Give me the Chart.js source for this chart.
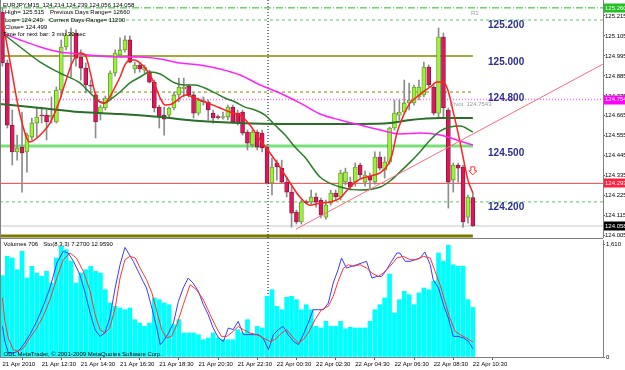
<!DOCTYPE html>
<html>
<head>
<meta charset="utf-8">
<script src="https://cdn.jsdelivr.net/npm/chart.js@4.4.0/dist/chart.umd.min.js"></script>
<style>
  html, body { margin: 0; padding: 0; background: #fff; }
  #wrap { position: relative; width: 625px; height: 370px; overflow: hidden; }
  #main { position: absolute; left: 0; top: 0; }
  #sub { position: absolute; left: 0; top: 238px; }
</style>
</head>
<body>
<div id="wrap">
  <canvas id="main" width="625" height="238"></canvas>
  <canvas id="sub" width="625" height="132"></canvas>
</div>
<script>
// EURJPY M15 bars, 21 Apr 10:30 .. 22 Apr 10:30
const openP = [125.237,124.956,124.614,124.466,124.493,124.466,124.548,124.625,124.669,124.669,
  124.658,124.631,124.807,125.044,125.105,125.121,124.989,124.928,124.835,124.780,
  124.680,124.708,124.763,124.901,125.000,125.028,125.083,124.923,124.945,124.917,
  124.906,124.851,124.713,124.669,124.669,124.708,124.780,124.813,124.829,124.780,
  124.680,124.747,124.741,124.680,124.658,124.656,124.658,124.713,124.680,124.686,
  124.576,124.504,124.576,124.570,124.493,124.295,124.405,124.377,124.300,124.245,
  124.135,124.080,124.190,124.190,124.218,124.201,124.107,124.184,124.240,124.218,
  124.300,124.300,124.300,124.394,124.300,124.333,124.300,124.438,124.366,124.410,
  124.598,124.669,124.686,124.736,124.736,124.769,124.780,124.934,124.824,124.680,
  125.099,124.697,124.311,124.394,124.383,124.107,124.214];
const highP = [125.259,124.972,124.697,124.559,124.686,124.570,124.653,124.713,124.713,124.697,
  124.769,124.824,125.083,125.138,125.149,125.138,125.028,124.956,124.862,124.796,
  124.724,124.774,124.912,125.028,125.094,125.105,125.105,124.961,124.956,124.945,
  124.917,124.862,124.724,124.713,124.713,124.796,124.873,124.873,124.835,124.791,
  124.763,124.769,124.752,124.697,124.669,124.686,124.724,124.724,124.697,124.697,
  124.587,124.587,124.587,124.587,124.504,124.432,124.421,124.421,124.328,124.273,
  124.146,124.201,124.201,124.256,124.240,124.212,124.201,124.256,124.256,124.366,
  124.377,124.328,124.405,124.405,124.361,124.350,124.466,124.466,124.438,124.603,
  124.752,124.752,124.862,124.846,124.835,124.862,124.961,124.945,124.835,125.149,
  125.121,124.708,124.405,124.405,124.394,124.229,124.239];
const lowP = [124.939,124.598,124.394,124.421,124.245,124.355,124.532,124.548,124.625,124.532,
  124.625,124.625,124.769,125.028,124.879,124.939,124.862,124.791,124.791,124.543,
  124.642,124.697,124.752,124.884,124.989,125.016,124.956,124.901,124.906,124.901,
  124.846,124.686,124.598,124.559,124.658,124.697,124.741,124.769,124.769,124.653,
  124.669,124.724,124.642,124.625,124.647,124.647,124.642,124.625,124.614,124.559,
  124.477,124.493,124.477,124.466,124.289,124.229,124.311,124.295,124.218,124.052,
  124.069,124.069,124.179,124.179,124.162,124.102,124.096,124.173,124.201,124.201,
  124.284,124.256,124.278,124.322,124.278,124.267,124.289,124.366,124.322,124.399,
  124.587,124.642,124.680,124.697,124.724,124.752,124.769,124.824,124.669,124.658,
  124.653,124.157,124.245,124.300,124.052,124.074,124.056];
const closeP = [124.956,124.614,124.466,124.488,124.460,124.559,124.625,124.658,124.664,124.631,
  124.669,124.807,125.044,125.110,125.116,124.983,124.928,124.835,124.829,124.631,
  124.713,124.763,124.901,125.011,125.028,125.083,124.961,124.945,124.923,124.934,
  124.851,124.708,124.658,124.647,124.708,124.780,124.824,124.824,124.780,124.680,
  124.752,124.741,124.697,124.653,124.655,124.658,124.713,124.631,124.625,124.570,
  124.515,124.576,124.493,124.488,124.295,124.383,124.383,124.300,124.245,124.129,
  124.080,124.190,124.187,124.218,124.190,124.118,124.173,124.240,124.218,124.350,
  124.355,124.273,124.383,124.339,124.339,124.311,124.438,124.377,124.410,124.598,
  124.680,124.686,124.736,124.752,124.824,124.824,124.934,124.835,124.680,125.099,
  124.708,124.300,124.394,124.377,124.080,124.218,124.058];
const volumes = [1159,1435,1411,1244,1506,1126,1292,1197,1150,1221,
  1054,1411,1577,1529,1364,1054,1197,1244,1292,1221,
  1197,959,769,722,698,674,698,532,484,437,
  484,841,817,769,745,460,532,342,342,342,
  318,247,271,342,271,247,247,247,389,342,
  532,318,437,413,865,959,722,674,851,865,
  817,674,745,674,437,413,508,437,437,508,
  403,423,413,413,413,508,674,745,841,1183,
  627,817,936,888,745,912,983,959,1079,1482,
  1364,1592,1315,1292,1292,817,706];

// moving averages (bar index, price)
const maFastAt = [0,1.5,3.6,5.6,7.7,9.7,11.7,12.8,14.2,15.8,16.9,17.9,18.9,19.9,20.9,21.9,23,24,25,26,
  27,28.1,29.1,30.1,31.1,32.2,33.2,34.6,36.2,37.3,38.3,40.3,42.4,44.4,46.4,48.5,50.5,52.6,54.6,56.6,
  58.7,60.7,62.8,64.8,66.8,68.9,70.9,73,75,77,78.5,79.5,80.5,81.7,83.2,84.6,85.8,87.3,88.7,89.9,
  90.9,91.9,93,94,95,96];
const maFastVal = [125.193,124.972,124.669,124.521,124.559,124.625,124.752,124.846,124.956,125.011,
  125.000,124.906,124.791,124.741,124.736,124.769,124.824,124.879,124.945,124.972,
  124.972,124.956,124.928,124.890,124.835,124.763,124.724,124.730,124.763,124.780,
  124.774,124.752,124.730,124.708,124.686,124.669,124.614,124.532,124.460,124.383,
  124.295,124.218,124.173,124.184,124.190,124.212,124.273,124.317,124.333,124.350,
  124.388,124.449,124.570,124.658,124.736,124.769,124.796,124.824,124.851,124.851,
  124.807,124.697,124.570,124.438,124.311,124.240];
const maMidAt = [0,3.6,7.7,11.7,15.8,17.9,19.9,20.9,21.9,24,26,28.1,30.1,32.2,35.2,37.3,39.3,41.3,43.4,45.4,
  47.5,49.5,51.5,53.6,55.6,57.7,59.7,61.7,64.8,68.9,73,77.1,79.1,81.1,83.2,85.2,87.3,89.3,91.3,93.4,96];
const maMidVal = [125.121,125.044,124.961,124.901,124.846,124.791,124.741,124.736,124.752,124.796,
  124.846,124.879,124.906,124.895,124.846,124.835,124.835,124.818,124.791,124.763,
  124.741,124.713,124.697,124.669,124.614,124.559,124.493,124.438,124.328,124.273,
  124.256,124.273,124.306,124.355,124.410,124.466,124.532,124.581,124.603,124.609,124.576];
const maSlowAt = [0,3.6,7.7,11.7,15.8,19.9,24,28.1,32.2,36.2,40.3,44.4,48.5,52.6,56.6,60.7,64.8,68.9,73,77.1,81.1,85.2,89.3,93.4,96];
const maSlowVal = [125.121,125.083,125.044,125.016,125.005,124.994,124.989,124.989,124.978,124.956,
  124.945,124.923,124.890,124.835,124.791,124.736,124.675,124.642,124.614,124.587,
  124.565,124.570,124.559,124.526,124.504];
const maLongAt = [-0.5,7.7,15.8,24,32.2,40.3,48.5,56.6,64.8,73,79.1,83.2,89.3,96];
const maLongVal = [124.730,124.708,124.686,124.675,124.658,124.636,124.625,124.620,124.620,124.620,124.625,124.642,124.653,124.653];

// Stochastic(8,3,3)
const kAt = [0,0.5,1.2,2.2,3.2,4.3,5.6,7.0,8.3,9.7,11.1,12.4,13.4,14.5,15.8,16.8,17.9,18.9,19.9,20.9,
  21.9,23.0,24.0,25.0,25.7,26.7,27.7,28.7,29.4,30.5,31.5,32.2,32.8,33.9,34.9,35.9,36.9,37.9,38.9,40.0,
  41.0,42.0,43.0,44.1,45.1,46.1,47.1,48.1,49.2,50.2,51.2,52.2,53.2,54.3,55.3,56.3,57.3,58.3,59.4,60.4,
  61.4,62.4,63.4,64.5,65.5,66.5,67.5,68.5,69.2,70.2,71.3,72.3,73.3,74.3,75.4,76.4,77.4,78.4,79.4,80.5,
  81.1,82.2,83.2,84.2,85.2,86.2,87.3,87.9,89.0,90.0,91.0,92.0,93.0,94.1,95.1,96];
const kVal = [26.4,13.5,3.5,3.5,4.9,10.6,19.3,30.7,43.7,59.5,81.0,91.1,89.7,82.5,71.0,56.6,37.9,23.6,17.8,20.7,
  33.6,59.5,79.6,94.5,89.7,82.5,73.9,65.2,59.5,42.2,25.0,10.6,13.5,20.7,29.3,48.0,59.5,68.1,63.8,56.6,
  45.1,36.5,25.0,16.4,13.5,25.0,23.6,30.7,19.3,19.3,19.3,19.3,16.4,6.3,19.3,23.6,26.4,19.3,13.5,10.6,
  19.3,29.3,40.8,40.8,40.8,46.5,63.8,75.3,85.4,76.7,78.2,79.6,81.0,82.5,68.1,69.5,69.5,75.3,82.5,89.7,
  89.7,82.5,82.5,83.9,85.4,90.5,79.6,66.7,59.5,45.1,33.6,17.8,17.8,16.4,13.5,7.27];
const dAt = [0,0.5,1.2,2.2,3.2,4.3,5.6,7.0,8.3,9.7,11.1,12.4,13.8,15.1,16.5,17.9,18.9,19.9,20.9,21.9,
  23.0,24.0,25.0,26.0,27.1,28.1,29.4,30.5,31.5,32.5,33.5,34.5,35.6,36.9,38.3,39.6,41.0,42.4,43.7,44.7,
  45.8,47.1,48.1,49.2,50.5,51.9,53.2,54.6,55.6,57.0,58.0,59.4,60.4,61.4,62.4,63.8,65.1,66.5,67.5,68.5,
  69.6,70.6,71.6,73.0,74.3,75.4,76.7,77.7,79.1,80.5,81.8,83.2,84.5,85.9,87.3,88.3,89.3,90.3,91.3,92.4,
  93.4,94.7,96];
const dVal = [50.9,30.7,16.4,6.3,4.9,7.8,16.4,25.0,35.1,49.4,68.1,83.9,89.7,85.4,73.9,56.6,36.5,23.6,20.7,25.0,
  42.2,68.1,83.9,86.8,85.4,76.7,66.7,55.2,39.4,23.6,16.4,17.8,27.9,45.1,62.4,58.0,49.4,36.5,25.0,17.8,
  17.8,22.1,26.4,23.6,20.7,19.3,16.4,13.5,15.0,20.7,23.6,16.4,12.1,15.0,20.7,32.2,40.8,43.7,52.3,65.2,
  76.7,79.6,78.2,79.6,76.7,72.4,69.5,72.4,78.2,85.4,86.8,83.9,83.9,86.8,85.4,73.9,62.4,48.0,33.6,22.1,
  19.3,16.4,12.96];

// horizontal objects: R1, dashed, olive, olive dashed, pivot, prev close, red, dashed, bid, olive bottom
const levelVals = [125.2597,125.193,124.994,124.796,124.7543,124.499,124.293,124.191,124.058,124.003];
const trendAt = [59.9,122.56];
const trendVal = [124.041,124.950];
const sessionAt = 54.2;

const priceTicks = [125.215,125.105,124.995,124.885,124.775,124.665,124.555,124.445,124.335,124.225,124.115,124.005];
const timeTickAt = [0,8,16,24,32,40,48,56,64,72,80,88,96];
const timeLabels = ['21 Apr 2010','21 Apr 12:30','21 Apr 14:30','21 Apr 16:30','21 Apr 18:30','21 Apr 20:30',
  '21 Apr 22:30','22 Apr 00:30','22 Apr 02:30','22 Apr 04:30','22 Apr 06:30','22 Apr 08:30','22 Apr 10:30'];
const bigLevelVals = [125.2,125.0,124.8,124.5,124.2];
const bigLevelText = ['125.200','125.000','124.800','124.500','124.200'];
const volTicks = [0,1610];

const FONT = "'Liberation Sans', Arial, sans-serif";
const X_MIN = -0.5, X_MAX = 122.56;
const Y_MIN = 123.992, Y_MAX = 125.303;

const pts = (xs, ys) => xs.map((x, i) => ({ x: x, y: ys[i] }));
const bull = i => closeP[i] >= openP[i];

const levelStyles = [
  { color: '#22c022', dash: [7, 2, 1, 2], width: 1, to: X_MAX },
  { color: '#55cc55', dash: [3, 3], width: 1, to: X_MAX },
  { color: '#8a8a00', dash: [], width: 1.5, to: 96 },
  { color: '#8a8a00', dash: [3, 3], width: 1, to: 96 },
  { color: '#ff70ff', dash: [1, 2], width: 1.5, to: X_MAX },
  { color: '#78e078', dash: [], width: 3, to: 96 },
  { color: '#f04040', dash: [], width: 1, to: X_MAX },
  { color: '#55cc55', dash: [3, 3], width: 1, to: X_MAX },
  { color: '#c8c8c8', dash: [], width: 1, to: X_MAX },
  { color: '#7a7a00', dash: [], width: 3, to: 96 }
];

const levelSets = levelVals.map((v, i) => ({
  type: 'line',
  data: [{ x: X_MIN, y: v }, { x: levelStyles[i].to, y: v }],
  borderColor: levelStyles[i].color,
  borderDash: levelStyles[i].dash,
  borderWidth: levelStyles[i].width,
  pointRadius: 0,
  order: 20
}));

function maSet(xs, ys, color, width, order) {
  return {
    type: 'line', data: pts(xs, ys), borderColor: color, borderWidth: width,
    pointRadius: 0, cubicInterpolationMode: 'monotone', order: order
  };
}

const overlayMain = {
  id: 'overlayMain',
  afterDraw(chart) {
    const { ctx, scales: { x, y } } = chart;
    ctx.save();
    // left frame
    ctx.strokeStyle = '#808080';
    ctx.lineWidth = 1;
    ctx.beginPath(); ctx.moveTo(0.5, 0); ctx.lineTo(0.5, 238); ctx.stroke();

    // header text
    ctx.fillStyle = '#000';
    ctx.font = '6px ' + FONT;
    ctx.textBaseline = 'middle';
    ctx.textAlign = 'left';
    ctx.fillText('EURJPY,M15  124.214 124.239 124.056 124.058', 3, 5.5);
    ctx.fillText('High= 125.515', 5, 12.7);
    ctx.fillText('Previous Days Range= 12660', 50, 12.7);
    ctx.fillText('Low= 124.249', 5, 20);
    ctx.fillText('Current Days Range= 11200', 49, 20);
    ctx.fillText('Close= 124.499', 5, 27.3);
    ctx.fillText('Time for next bar: 3 min 30 sec', 3, 34.3);

    // object labels
    ctx.fillStyle = '#9a9a9a';
    ctx.fillText('R1', x.getPixelForValue(95.6), y.getPixelForValue(levelVals[0]) + 5);
    ctx.fillText('Pivot  124.7543', x.getPixelForValue(91.3), y.getPixelForValue(levelVals[4]) + 4.5);

    ctx.fillStyle = '#2b2e8c';
    ctx.font = 'bold 10px ' + FONT;
    bigLevelVals.forEach((v, i) => {
      ctx.fillText(bigLevelText[i], x.getPixelForValue(99.1), y.getPixelForValue(v) + 7);
    });

    // sell arrow
    const ax = x.getPixelForValue(96), ay = y.getPixelForValue(124.362);
    ctx.beginPath();
    ctx.moveTo(ax - 2, ay - 4); ctx.lineTo(ax + 2, ay - 4); ctx.lineTo(ax + 2, ay);
    ctx.lineTo(ax + 4, ay); ctx.lineTo(ax, ay + 4); ctx.lineTo(ax - 4, ay); ctx.lineTo(ax - 2, ay);
    ctx.closePath();
    ctx.fillStyle = '#fff'; ctx.fill();
    ctx.strokeStyle = '#ff3030'; ctx.lineWidth = 1; ctx.stroke();

    // price boxes on the axis
    const boxes = [
      { v: levelVals[0], bg: '#22c022', fg: '#fff', t: '125.260' },
      { v: levelVals[4], bg: '#ff00ff', fg: '#fff', t: '124.754' },
      { v: levelVals[6], bg: '#ff2040', fg: '#fff', t: '124.293' },
      { v: closeP[closeP.length - 1], bg: '#000', fg: '#fff', t: '124.058' }
    ];
    ctx.font = '6px ' + FONT;
    boxes.forEach(b => {
      const py = y.getPixelForValue(b.v);
      ctx.fillStyle = b.bg;
      ctx.fillRect(604, Math.round(py) - 4.5, 21, 9);
      ctx.fillStyle = b.fg;
      ctx.fillText(b.t, 605, py);
    });
    ctx.restore();
  }
};

new Chart(document.getElementById('main'), {
  type: 'bar',
  data: {
    datasets: [
      { type: 'line', data: pts(trendAt, trendVal), borderColor: '#ff6a80', borderWidth: 1, pointRadius: 0, order: 0 },
      maSet(maFastAt, maFastVal, '#ff2020', 1.5, 1),
      maSet(maMidAt, maMidVal, '#2a7d2a', 1.5, 2),
      maSet(maSlowAt, maSlowVal, '#ff22ff', 1.5, 3),
      maSet(maLongAt, maLongVal, '#2a6e2a', 2, 4),
      {
        label: 'body', data: openP.map((o, i) => ({ x: i, y: [o, closeP[i]] })),
        backgroundColor: ctx => bull(ctx.dataIndex) ? '#9cf23a' : '#e3155a',
        borderColor: ctx => bull(ctx.dataIndex) ? '#5c8a2a' : '#7a1a3a',
        borderWidth: 0.8, borderSkipped: false, minBarLength: 1,
        grouped: false, barPercentage: 1, categoryPercentage: 1, maxBarThickness: 4, order: 6
      },
      {
        label: 'wick', data: lowP.map((l, i) => ({ x: i, y: [l, highP[i]] })),
        backgroundColor: '#8c8c8c', borderWidth: 0,
        grouped: false, barPercentage: 1, categoryPercentage: 1, maxBarThickness: 1, order: 7
      },
      { type: 'line', data: [{ x: sessionAt, y: Y_MIN }, { x: sessionAt, y: Y_MAX }], borderColor: '#000',
        borderWidth: 1, borderDash: [1, 2], pointRadius: 0, order: 8 },
      ...levelSets
    ]
  },
  options: {
    responsive: false, animation: false, devicePixelRatio: 1,
    layout: { padding: 0 },
    plugins: { legend: { display: false }, tooltip: { enabled: false } },
    scales: {
      x: { type: 'linear', min: X_MIN, max: X_MAX, offset: false, display: false },
      y: {
        type: 'linear', position: 'right', min: Y_MIN, max: Y_MAX,
        afterBuildTicks: s => { s.ticks = priceTicks.map(v => ({ value: v })); },
        afterFit: s => { s.width = 22; s.paddingTop = 0; s.paddingBottom = 0; },
        ticks: { callback: v => v.toFixed(3), font: { family: FONT, size: 6 }, color: '#000', padding: 0 },
        grid: { drawOnChartArea: false, tickLength: 2, color: '#606060' },
        border: { color: '#808080' }
      }
    }
  },
  plugins: [overlayMain]
});

const overlaySub = {
  id: 'overlaySub',
  afterDraw(chart) {
    const { ctx } = chart;
    ctx.save();
    ctx.strokeStyle = '#808080';
    ctx.lineWidth = 1;
    ctx.beginPath(); ctx.moveTo(0, 0.5); ctx.lineTo(603, 0.5); ctx.stroke();
    ctx.beginPath(); ctx.moveTo(0.5, 0); ctx.lineTo(0.5, 119); ctx.stroke();
    ctx.fillStyle = '#000';
    ctx.font = '6px ' + FONT;
    ctx.textBaseline = 'middle';
    ctx.fillText('Volumes 706   Sto(8,3,3) 7.2700 12.9590', 3.5, 6.5);
    ctx.fillText('ODL MetaTrader, \u00a9 2001-2009 MetaQuotes Software Corp.', 3.5, 116.5);
    ctx.restore();
  }
};

new Chart(document.getElementById('sub'), {
  type: 'bar',
  data: {
    datasets: [
      { type: 'line', data: pts(dAt, dVal), yAxisID: 'ys', borderColor: '#ff3333', borderWidth: 1, pointRadius: 0, order: 1 },
      { type: 'line', data: pts(kAt, kVal), yAxisID: 'ys', borderColor: '#3a3aff', borderWidth: 1, pointRadius: 0, order: 2 },
      {
        data: volumes.map((v, i) => ({ x: i, y: v })), backgroundColor: '#00ffff',
        grouped: false, barPercentage: 1, categoryPercentage: 1, maxBarThickness: 4, order: 5
      },
      { type: 'line', data: [{ x: sessionAt, y: 0 }, { x: sessionAt, y: 1667 }], borderColor: '#000',
        borderWidth: 1, borderDash: [1, 2], pointRadius: 0, order: 8 }
    ]
  },
  options: {
    responsive: false, animation: false, devicePixelRatio: 1,
    layout: { padding: { top: 2, left: 0, right: 0, bottom: 0 } },
    plugins: { legend: { display: false }, tooltip: { enabled: false } },
    scales: {
      x: {
        type: 'linear', min: X_MIN, max: X_MAX, offset: false,
        afterBuildTicks: s => { s.ticks = timeTickAt.map(v => ({ value: v })); },
        afterFit: s => { s.height = 13; s.paddingLeft = 0; s.paddingRight = 0; },
        ticks: { callback: (v, i) => timeLabels[i], align: 'start', autoSkip: false, maxRotation: 0,
                 font: { family: FONT, size: 6 }, color: '#000', padding: 1 },
        grid: { drawOnChartArea: false, tickLength: 3, color: '#606060' },
        border: { color: '#808080' }
      },
      y: {
        type: 'linear', position: 'right', min: 0, max: 1667,
        afterBuildTicks: s => { s.ticks = volTicks.map(v => ({ value: v })); },
        afterFit: s => { s.width = 22; s.paddingTop = 0; s.paddingBottom = 0; },
        ticks: { font: { family: FONT, size: 6 }, color: '#000', padding: 1 },
        grid: { drawOnChartArea: false, tickLength: 2, color: '#606060' },
        border: { color: '#808080' }
      },
      ys: { type: 'linear', display: false, min: 0, max: 100.9 }
    }
  },
  plugins: [overlaySub]
});
</script>
</body>
</html>
